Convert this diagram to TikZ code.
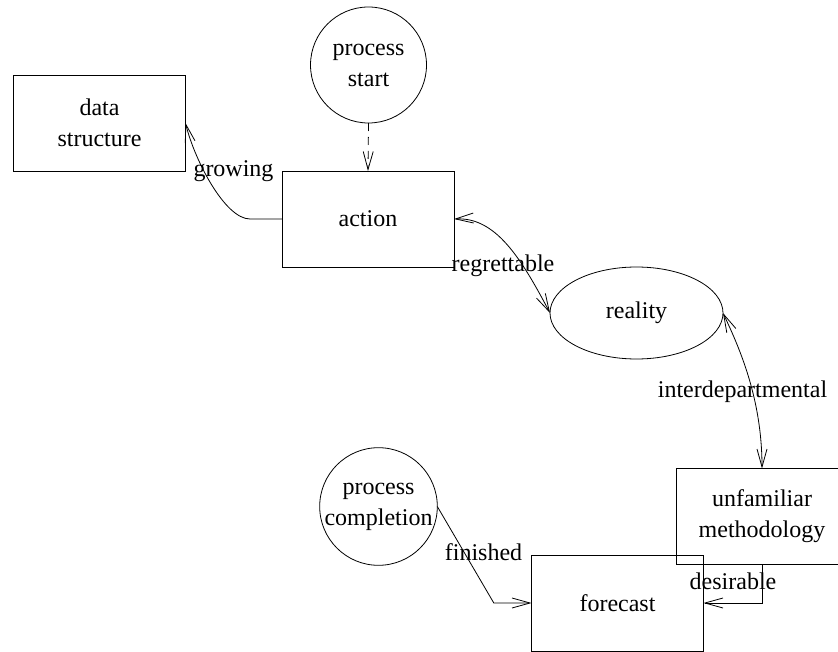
\documentclass[tikz,border=0pt]{standalone}
\usepackage{fontspec}
\setmainfont{Liberation Serif}
\usetikzlibrary{arrows.meta,shapes.geometric}
\begin{document}
\begin{tikzpicture}[x=1pt,y=-1pt,line width=0.8pt,
  every node/.style={font=\fontsize{24}{31}\selectfont, inner sep=0pt, outer sep=0pt, align=center},
  boxnode/.style={draw, rectangle, minimum width=172pt, minimum height=96pt},
  circnode/.style={draw, circle, minimum size=116pt},
  ellnode/.style={draw, ellipse, minimum width=173pt, minimum height=92pt},
  tipend/.style={-{Straight Barb[length=18pt,width=10pt]}},
  tipboth/.style={{Straight Barb[length=18pt,width=10pt]}-{Straight Barb[length=18pt,width=10pt]}},
  lbl/.style={anchor=base}
]
\clip (0,0) rectangle (838,652);
\fill[white] (0,0) rectangle (838,652);

\node[boxnode] (data) at (99.5,123) {data\\structure};
\node[circnode] (ps) at (368.5,65) {process\\start};
\node[boxnode] (action) at (368,219) {action};
\node[ellnode] (reality) at (636.5,313) {reality};
\node[boxnode] (unfam) at (762,516.5) {unfamiliar\\methodology};
\node[circnode] (pc) at (378.5,506.5) {process\\completion};
\node[boxnode] (fore) at (617.5,603) {forecast};

% connectors
\draw[tipend, dash pattern=on 8pt off 6pt] (ps.south) -- (action.north);
\draw[tipend] (action.west) -- ++(-32,0) .. controls +(-25,0) and +(9,37) .. (data.east);
\draw[tipboth] (action.east) .. controls +(41,-2) and +(-30,-57) .. (reality.west);
\draw[tipboth] (reality.east) .. controls +(17,36) and +(0,-69) .. (unfam.north);
\draw[tipend] (unfam.south) |- (fore.east);
\draw[tipend] (pc.east) -- ++(56.5,96.5) -- (fore.west);

% labels
\node[lbl] (lgrow) at (233.5,177) {growing};
\node[lbl] (lregr) at (503,272) {regrettable};
\node[lbl] (linter) at (742.5,397) {interdepartmental};
\node[lbl] (lfin) at (483.5,560) {finished};
\node[lbl] (ldes) at (733,589) {desirable};
\end{tikzpicture}
\end{document}
